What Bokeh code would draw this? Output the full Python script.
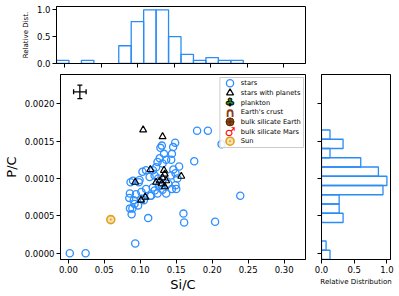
import numpy as np
from bokeh.plotting import figure
from bokeh.layouts import column, row
from bokeh.models import (Range1d, FixedTicker, PrintfTickFormatter,
                          CustomLabelingPolicy)
from bokeh.core.properties import value
from bokeh.embed import file_html
from bokeh.resources import INLINE

FONT = "DejaVu Sans"

# ---------------- data ----------------
star_si_c = [0.002, 0.024, 0.093, 0.088, 0.111, 0.160, 0.161, 0.204, 0.239, 0.175,
             0.179, 0.194, 0.213, 0.1485, 0.1457, 0.130, 0.128, 0.144, 0.133, 0.143,
             0.136, 0.127, 0.124, 0.131, 0.154, 0.122, 0.1175, 0.108, 0.103, 0.149,
             0.1425, 0.1516, 0.120, 0.113, 0.099, 0.090, 0.0865, 0.149, 0.144, 0.131,
             0.1175, 0.108, 0.1015, 0.094, 0.0856, 0.136, 0.124, 0.115, 0.150, 0.0847,
             0.091, 0.089, 0.097, 0.105, 0.114, 0.120, 0.126, 0.139, 0.146, 0.125,
             0.098, 0.0857, 0.092, 0.1015, 0.1295]
star_p_c = [0.0000, 0.0000, 0.00013, 0.00052, 0.00047, 0.00053, 0.00041, 0.00042, 0.00077, 0.00123,
            0.00164, 0.00164, 0.00146, 0.00148, 0.00142, 0.00144, 0.00141, 0.00133, 0.00133, 0.00125,
            0.00125, 0.00127, 0.00122, 0.00120, 0.00116, 0.00115, 0.00111, 0.00111, 0.00109, 0.00107,
            0.00104, 0.00100, 0.00104, 0.00102, 0.00098, 0.00097, 0.00095, 0.00091, 0.00086, 0.00085,
            0.00088, 0.00086, 0.00082, 0.00079, 0.00080, 0.00080, 0.00080, 0.00077, 0.00086, 0.00074,
            0.00071, 0.00060, 0.00064, 0.00071, 0.00077, 0.00084, 0.00090, 0.00093, 0.00112, 0.00100,
            0.00095, 0.00060, 0.00066, 0.00073, 0.00091]

planet_si_c = [0.104, 0.131, 0.114, 0.093, 0.133, 0.134, 0.131, 0.127, 0.122, 0.136,
               0.130, 0.134, 0.157, 0.107, 0.101]
planet_p_c = [0.00165, 0.00156, 0.00112, 0.00095, 0.00111, 0.00106, 0.00101, 0.00097, 0.00095, 0.00097,
              0.00093, 0.00089, 0.00103, 0.00075, 0.00071]

sun_si_c = [0.059]
sun_p_c = [0.00045]

err_si_c = [0.016]
err_p_c = [0.00216]
err_x_size = [0.0087]
err_y_size = [0.00009]

x_ticks = [0.00, 0.05, 0.10, 0.15, 0.20, 0.25, 0.30]
y_ticks = [0.0000, 0.0005, 0.0010, 0.0015, 0.0020]
dist_ticks = [0.0, 0.5, 1.0]

# relative distributions (20 bins spanning the axis ranges)
top_rel = [0.06, 0, 0.06, 0, 0, 0.33, 0.78, 1.0, 1.0, 0.5,
           0.17, 0.06, 0.11, 0.06, 0.06, 0, 0, 0, 0, 0]
right_rel = [0.13, 0.07, 0, 0, 0.33, 0.27, 0.27, 0.94, 1.0, 0.87,
             0.6, 0.13, 0.33, 0.13, 0, 0, 0, 0, 0, 0]

legend_labels = ["stars", "stars with planets", "plankton", "Earth's crust",
                 "bulk silicate Earth", "bulk silicate Mars", "Sun"]

# ---------------- layout constants ----------------
X_RANGE = (-0.0109, 0.3297)
Y_RANGE = (-0.0000843, 0.002392)

ML, MR, MT, MB = 56, 4, 0, 37
FW, FH = 249, 185
TT, TB, TFH = 6, 11, 57
RL, RR, RFW = 4, 9, 77

STAR_BLUE = "#2f8fff"
HIST_BLUE = "#2a8cf5"
SUN_COL = "#e0a020"


def style(p, tick_size="8.5px"):
    p.outline_line_color = "black"
    p.outline_line_alpha = 1
    p.outline_line_width = 1
    p.grid.visible = False
    p.background_fill_color = "white"
    p.border_fill_color = "white"
    for ax in p.axis:
        ax.major_tick_in = 0
        ax.major_tick_out = 4
        ax.minor_tick_in = 0
        ax.minor_tick_out = 0
        ax.major_tick_line_color = "black"
        ax.axis_line_color = "black"
        ax.major_label_text_font = FONT
        ax.major_label_text_font_size = tick_size
        ax.major_label_text_color = "black"
        ax.axis_label_text_font = FONT
        ax.axis_label_text_font_style = "normal"
        ax.axis_label_text_color = "black"
        ax.major_label_standoff = 2
        ax.axis_label_standoff = 2


def hide_tick_labels(ax):
    ax.major_label_text_font_size = "1px"
    ax.major_label_standoff = 0
    ax.major_label_policy = CustomLabelingPolicy(
        code="for (const i of indices) indices.unset(i)")


# ---------------- main scatter ----------------
main = figure(width=ML + FW + MR, height=MT + FH + MB,
              x_range=Range1d(*X_RANGE), y_range=Range1d(*Y_RANGE),
              output_backend="svg", toolbar_location=None,
              min_border_left=ML, min_border_right=MR,
              min_border_top=MT, min_border_bottom=MB)
style(main)
main.xaxis.ticker = FixedTicker(ticks=x_ticks)
main.yaxis.ticker = FixedTicker(ticks=y_ticks)
main.xaxis.formatter = PrintfTickFormatter(format="%.2f")
main.yaxis.formatter = PrintfTickFormatter(format="%.4f")
main.xaxis.axis_label = "Si/C"
main.yaxis.axis_label = "P/C"
main.xaxis.axis_label_text_font_size = "13px"
main.yaxis.axis_label_text_font_size = "13px"
main.xaxis.axis_label_standoff = 1
main.yaxis.axis_label_standoff = 3

main.scatter(star_si_c, star_p_c, marker="circle", size=7.2, line_color=STAR_BLUE,
             fill_alpha=0, line_width=1.3)
main.scatter(planet_si_c, planet_p_c, marker="triangle", size=7, line_color="black",
             fill_alpha=0, line_width=1.2)
main.scatter(sun_si_c, sun_p_c, marker="circle_dot", size=8, line_color=SUN_COL,
             fill_color="#f8e2b0", line_width=1.6)

# error bar
ex, ey = err_si_c[0], err_p_c[0]
dx, dy = err_x_size[0], err_y_size[0]
main.segment(x0=[ex - dx, ex], y0=[ey, ey - dy], x1=[ex + dx, ex], y1=[ey, ey + dy],
             line_color="black", line_width=1.3)
main.scatter([ex - dx, ex + dx], [ey, ey], marker="dash", angle=np.pi / 2, size=5,
             line_color="black", line_width=1.3)
main.scatter([ex, ex], [ey - dy, ey + dy], marker="dash", size=5,
             line_color="black", line_width=1.3)


# ---------------- manual legend (positions in frame pixels) ----------------
def fx(px):
    return X_RANGE[0] + px / FW * (X_RANGE[1] - X_RANGE[0])


def fy(py):
    return Y_RANGE[1] - py / FH * (Y_RANGE[1] - Y_RANGE[0])


main.quad(left=[fx(162)], right=[fx(247)], top=[fy(3)], bottom=[fy(73)],
          fill_color="white", fill_alpha=0.85, line_color="#cccccc", line_width=1)
rows_y = [fy(8.7 + 9.67 * i) for i in range(len(legend_labels))]
sym_x = fx(172.3)
txt_x = fx(183.3)
main.scatter([sym_x], [rows_y[0]], marker="circle", size=7.2, line_color=STAR_BLUE,
             fill_alpha=0, line_width=1.3)
main.scatter([sym_x], [rows_y[1]], marker="triangle", size=7, line_color="black",
             fill_alpha=0, line_width=1.2)
main.text([sym_x], [rows_y[2]], text=["\u2663"], text_font=value(FONT), text_font_size="11px",
          text_color="#2e8b1e", text_align="center", text_baseline="middle",
          text_outline_color="black")
main.text([sym_x], [rows_y[3]], text=["\u2229"], text_font=value(FONT), text_font_size="13px",
          text_font_style="bold", text_color="#8b3a0f", text_align="center",
          text_baseline="middle")
main.scatter([sym_x], [rows_y[4]], marker="circle_cross", size=8, line_color="#5a2a0a",
             fill_color="#8b4513", line_width=1)
main.text([sym_x], [rows_y[5]], text=["\u2642"], text_font=value(FONT), text_font_size="12px",
          text_font_style="bold", text_color="red", text_align="center",
          text_baseline="middle")
main.scatter([sym_x], [rows_y[6]], marker="circle_dot", size=8, line_color=SUN_COL,
             fill_color="#f8e2b0", line_width=1.6)
main.text([txt_x] * len(legend_labels), rows_y, text=legend_labels, text_font=value(FONT),
          text_font_size="6.7px", text_color="black", text_align="left",
          text_baseline="middle")

# ---------------- top histogram ----------------
top = figure(width=ML + FW + MR, height=TT + TFH + TB,
             x_range=main.x_range, y_range=Range1d(0, 1.061),
             output_backend="svg", toolbar_location=None,
             min_border_left=ML, min_border_right=MR,
             min_border_top=TT, min_border_bottom=TB)
style(top)
top.xaxis.ticker = FixedTicker(ticks=x_ticks)
hide_tick_labels(top.xaxis[0])
top.yaxis.ticker = FixedTicker(ticks=dist_ticks)
top.yaxis.formatter = PrintfTickFormatter(format="%.1f")
top.yaxis.axis_label = "Relative Dist."
top.yaxis.axis_label_text_font_size = "7px"
top.yaxis.axis_label_standoff = 4

x_edges = np.linspace(X_RANGE[0], X_RANGE[1], len(top_rel) + 1)
keep = [i for i, v in enumerate(top_rel) if v > 0]
top.quad(left=x_edges[keep], right=x_edges[np.array(keep) + 1], bottom=0,
         top=[top_rel[i] for i in keep], fill_alpha=0, line_color=HIST_BLUE, line_width=1.3)

# ---------------- right histogram ----------------
right = figure(width=RL + RFW + RR, height=MT + FH + MB,
               x_range=Range1d(0, 1.055), y_range=main.y_range,
               output_backend="svg", toolbar_location=None,
               min_border_left=RL, min_border_right=RR,
               min_border_top=MT, min_border_bottom=MB)
style(right)
right.yaxis.ticker = FixedTicker(ticks=y_ticks)
hide_tick_labels(right.yaxis[0])
right.xaxis.ticker = FixedTicker(ticks=dist_ticks)
right.xaxis.formatter = PrintfTickFormatter(format="%.1f")
right.xaxis.axis_label = "Relative Distribution"
right.xaxis.axis_label_text_font_size = "7px"

y_edges = np.linspace(Y_RANGE[0], Y_RANGE[1], len(right_rel) + 1)
keep_r = [i for i, v in enumerate(right_rel) if v > 0]
right.quad(left=0, right=[right_rel[i] for i in keep_r], bottom=y_edges[keep_r],
           top=y_edges[np.array(keep_r) + 1], fill_alpha=0, line_color=HIST_BLUE,
           line_width=1.3)

layout = column(top, row(main, right))
open("out.html", "w").write(file_html(layout, INLINE))
